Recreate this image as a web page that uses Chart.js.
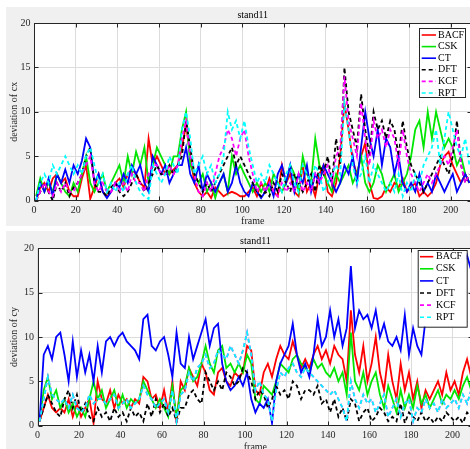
<!DOCTYPE html>
<html><head><meta charset="utf-8">
<script src="https://cdn.jsdelivr.net/npm/chart.js@4.4.1/dist/chart.umd.min.js"></script>
<style>
html,body{margin:0;padding:0;background:#fff;overflow:hidden;width:470px;height:449px;position:relative;}
.panel{position:absolute;left:6px;background:#f0f0f0;}
#p1{top:7px;width:470px;height:219px;}
#p2{top:231px;width:470px;height:224px;}
canvas{display:block;}
</style></head><body>
<div class="panel" id="p1"><canvas id="c1" width="470" height="219" style="width:470px;height:219px"></canvas></div>
<div class="panel" id="p2"><canvas id="c2" width="470" height="224" style="width:470px;height:224px"></canvas></div>
<script>
const frames = [1,3,5,7,9,11,13,15,17,19,21,23,25,27,29,31,33,35,37,39,41,43,45,47,49,51,53,55,57,59,61,63,65,67,69,71,73,75,77,79,81,83,85,87,89,91,93,95,97,99,101,103,105,107,109,111,113,115,117,119,121,123,125,127,129,131,133,135,137,139,141,143,145,147,149,151,153,155,157,159,161,163,165,167,169,171,173,175,177,179,181,183,185,187,189,191,193,195,197,199,201,203,205,207,209];
const seriesNames = ['BACF','CSK','CT','DFT','KCF','RPT'];
const chartTitle = 'stand11';
const xTitle = 'frame';
const yTitleTop = 'deviation of cx';
const yTitleBottom = 'deviation of cy';

// ---- deviation of cx ----
const cxBACF = [0,1.5,2,1,2.5, 3,2,2.5,1,0.5, 0.5,2.5,4,0.2,1.5, 3,1,0.5,1,2, 2.5,1.5,3,3.5,3, 2,1.5,7,4,5, 4,3,3,3.5,4, 6,8.5,5,2,1, 0.5,1,0.3,1.5,1, 0.5,0.8,1,0.8,0.5, 0.5,1,1.5,0.5,2, 1,2.5,1,0.5,4, 2,3,1,0.5,4, 1,2,0.5,3,4, 1,0.5,2,5,11, 8,4.5,3,5,6.5, 2,0.3,0.2,0.5,1.5, 1,2,1.5,2.5,1, 1.5,2,0.5,1,0.5, 1,2,4,5,5.5, 4,3,2,3,2];
const cxCSK = [0.5,2.5,1,2,1, 3,2,1,0.5,2, 1,3,5,2,1, 2,3,1,2,3, 4,2,5,3,5.5, 4,6,2,4,6, 5,4,3,5,5, 8,10,4,3,2, 3,1,2,0.3,2, 3,1,5,3,4, 3,2,1,2,1, 2,1,3,2,1, 2,4,3,1,5, 3,2,7,4,3, 2,1,3,2,3, 4,2,3,5,2, 1,2,4,3,1, 2,3,1,2,3, 5,8,9,6,10, 7,10,8,6,7, 6,4,5,3,2];
const cxCT = [0,2,1,2.5,0.5, 3,2,3.5,2,4, 3,4.5,7,6,2, 3,1,0.3,1,2, 1.5,3,2,4,3, 4,2,1,5,4, 3,4,2,3,4, 4,6,3,2,4, 1,3,2,1,2, 3,1,2,4,2, 1,0.5,2,1,0.3, 1,2,0.5,3,4, 2,4,1,3,2, 4,1,3,2,4, 3,2,1,2,4, 3,5,2,6,10, 7,5,8,4,7, 6,3,5,2,1, 2,1,3,1,2, 1,3,2,1,2, 3,1,2,3,2];
const cxDFT = [0,1,2,1,0, 2,1,2,0.5,1.5, 2,3,5,6,2, 1,1,0.5,1.5,2, 1,0.5,1,2,3, 2,1,2,3,4, 3,3,4,3,4, 5,9,6,3,2, 1,2,1,2,3, 4,5,6,4,5, 4,3,2,1,0.5, 1,0.5,2,1,3, 2,1,3,2,1, 2,3,1,4,3, 5,2,7,4,15, 10,8,6,12,8, 5,10,8,9,7, 9,8,5,9,6, 4,3,2,1,2, 3,4,5,4,3, 5,9,4,2,3];
const cxKCF = [0,1,2,1,0.5, 2,1,2,1,1, 2,3,4,5,2, 1,2,1,1,2, 1,2,1,3,2, 2,1,3,4,4, 3,3,4,3,4, 7,9,5,3,1, 0.5,2,1,3,5, 6,8,7,5,7, 8,5,3,1,2, 1,2,1,0.5,2, 1,2,1,3,1, 2,1,3,2,3, 4,2,5,6,14, 9,7,5,11,7, 4,9,7,8,6, 8,7,4,8,5, 3,2,1,2,3, 2,3,4,5,4, 6,8,4,2,3];
const cxRPT = [0,2,3,2,4, 3,4,5,4,3, 4,3,5,6,4, 2,3,1,2,1, 2,1,3,4,2, 1,0.5,0.2,4,3, 2,3,5,4,3, 8,10,7,3,4, 5,3,4,2,3, 5,10,8,9,7, 9,6,4,2,3, 2,4,3,2,1, 3,4,2,1,4, 3,2,4,3,1, 2,3,4,3,11, 8,4,2,3,5, 2,4,3,2,1, 2,1,3,0.5,2, 1,3,2,4,5, 6,8,4,7,10, 8,6,5,7,4];

// ---- deviation of cy ----
const cyBACF = [0.5,2,3.5,2,1.5, 2,1.5,3,1,2.5, 1,2,3,0.3,5, 3,2.5,4,2,3.5, 2.5,3,2,3,2.5, 5.5,5,3,3.5,2, 4,1.5,5,0.3,5, 4,6.5,5.5,4.5,7, 6,4,3.5,6,6.5, 5,4.5,6,5.5,6, 9,8.5,4,3.5,6, 7,5.5,7.5,9,8, 7.5,9.5,8,6.5,7.5, 6.5,8,9,7.5,8.5, 7,9,8,7.5,5, 13,8,6,9,5, 7,10,6,4,8, 5,3,7,4,6, 3,5,2,4,3, 4,5,3.5,6,4, 5,3.5,6,7.5,5.5];
const cyCSK = [0.5,4,5.5,3,4, 2,3,1.5,2.5,1, 2,1,3,5,3, 4,2,3,4,2, 3.5,2,3,2.5,3, 5,4,3,2,3, 2,1,4.5,1,4, 4.5,6.5,5,5.5,7, 9,7,6,8.5,9, 6.5,7,6,7,6, 8,7,3,2.5,4.5, 4,3.5,5,7,6.5, 6,7.5,8,7,6.5, 6,7.5,6.5,7,6, 5.5,6.5,5,6,3.5, 10.5,5,4,6,3.5, 5,6,3.5,2,4.5, 3,1.5,4,2,3.5, 2,4.5,2.5,3.5,2, 3,4,2.5,3.5,3, 4,3,4.5,5.5,4];
const cyCT = [0.5,8,9,7.5,10, 10.5,8,5,9.5,5.5, 8.5,6,8,5,9, 6,9.5,10,9,10, 10.5,9.5,9,8.5,7.5, 12,12.5,9,8.5,9.5, 10,8,5.5,10.5,7, 6.5,10,7.5,9,10.5, 12,9,11,11.5,7, 5,4,4.5,5.5,4.5, 6,3,1.5,2.5,2, 3,0.3,5,7,8, 9,11.5,8,6,7, 5.5,8,12,9,10, 13,10,12,9,11, 18,11,13,12,12.5, 11,13,10,11.5,9.5, 9,10,8.5,12.5,8, 11,9,8,12,14, 15,13,16,14,15, 16,14,18,19.2,17.5];
const cyDFT = [0.5,2,3.5,2.5,1.5, 1,3,4,2,3.5, 1.5,2.5,1,0.5,2, 1,1.5,0.5,2,1, 1.5,0.5,2,1,1.5, 0.5,2.5,1,3,1.5, 2.5,1,2,0.5,2, 2,3.5,4,3,2.5, 6,5,4,5,4, 6,5.5,4.5,5,6.5, 6,5,3,4,3.5, 2,3,4.5,3.5,4, 3,5,4.5,3,4, 4,3.5,4.5,2.5,3, 1.5,3,1,2,0.5, 3,2.5,0.5,1.5,2, 0.5,1,2,1.5,0.5, 1,0.5,2.5,0.3,1.5, 1,0.5,1.5,0.5,1, 0.3,1,0.5,1.5,1, 0.5,1,0.3,1.5,1];
const cyKCF = [0.5,3,5.5,3.5,3, 2.5,3,2,3.5,2, 1.5,2,3.5,2.5,3, 3,2.5,3,3.5,2, 2.5,3,2,2.5,3, 4.5,3.5,3,2,2.5, 3,1.5,4,0.5,3.5, 4,6,5,6.5,7, 8,6.5,7,8.5,8, 7.5,9,8,7,8.5, 10.5,8,4,5,3.5, 3,0.5,4,6,5.5, 6.5,7,6,5.5,6.5, 6,5.5,5,4.5,4, 3.5,4,3,2,0.5, 5,3,2,3.5,2.5, 3,1.5,2.5,3.5,1, 2,3,1,2.5,3, 0.5,2,1.5,3,2, 2.5,1.5,3,2,2.5, 3,2,3.5,2.5,4];
const cyRPT = [0.5,3,5.5,3.5,3, 2.5,3,2,3.5,2, 1.5,2,3.5,2.5,3, 3,2.5,3,3.5,2, 2.5,3,2,2.5,3, 4.5,3.5,3,2,2.5, 3,1.5,4,0.5,3.5, 4,6,5,6.5,7, 8,6.5,7,8.5,8, 7.5,9,8,7,8.5, 10.5,8,4,5,3.5, 3,0.5,4,6,5.5, 6.5,7,6,5.5,6.5, 6,5.5,5,4.5,4, 3.5,4,3,2,0.5, 5,3,2,3.5,2.5, 3,1.5,2.5,3.5,1, 2,3,1,2.5,3, 0.5,2,1.5,3,2, 2.5,1.5,3,2,2.5, 3,2,3.5,2.5,4];

const colors = ['#ff0000','#00e600','#0000ff','#000000','#ff00ff','#00ffff'];
const dashes = [[],[],[],[4,3],[4,3],[4,3]];

const SERIF = '"Liberation Serif", "Times New Roman", serif';
const TICK = '#262626';
const GRID = '#dcdcdc';

const frameBox = {
  id: 'frameBox',
  beforeDraw(chart) {
    const {ctx, chartArea: a} = chart;
    ctx.save();
    ctx.fillStyle = '#ffffff';
    ctx.fillRect(a.left, a.top, a.right - a.left, a.bottom - a.top);
    ctx.restore();
  },
  afterDatasetsDraw(chart) {
    const {ctx, chartArea: a, scales} = chart;
    ctx.save();
    ctx.strokeStyle = TICK;
    ctx.lineWidth = 1;
    const L = Math.round(a.left) + 0.5, R = Math.round(a.right) - 0.5;
    const T = Math.round(a.top) + 0.5, B = Math.round(a.bottom) - 0.5;
    ctx.strokeRect(L, T, R - L, B - T);
    ctx.beginPath();
    scales.x.ticks.forEach(t => {
      const px = Math.round(scales.x.getPixelForValue(t.value)) + 0.5;
      ctx.moveTo(px, B); ctx.lineTo(px, B - 4);
      ctx.moveTo(px, T); ctx.lineTo(px, T + 4);
    });
    scales.y.ticks.forEach(t => {
      const py = Math.round(scales.y.getPixelForValue(t.value)) + 0.5;
      ctx.moveTo(L, py); ctx.lineTo(L + 4, py);
      ctx.moveTo(R, py); ctx.lineTo(R - 4, py);
    });
    ctx.stroke();
    ctx.restore();
  }
};

const boxLegend = {
  id: 'boxLegend',
  afterDraw(chart, args, o) {
    const ctx = chart.ctx;
    ctx.save();
    ctx.fillStyle = '#ffffff';
    ctx.fillRect(o.x, o.y, o.w, o.h);
    ctx.strokeStyle = TICK; ctx.lineWidth = 1;
    ctx.strokeRect(o.x + 0.5, o.y + 0.5, o.w, o.h);
    ctx.font = '10px ' + SERIF;
    ctx.textBaseline = 'middle';
    ctx.textAlign = 'left';
    chart.data.datasets.forEach((ds, i) => {
      const yy = o.y + o.first + i * o.row;
      ctx.strokeStyle = ds.borderColor; ctx.lineWidth = 1.6;
      ctx.setLineDash(ds.borderDash || []);
      ctx.beginPath(); ctx.moveTo(o.lx0, yy); ctx.lineTo(o.lx1, yy); ctx.stroke();
      ctx.setLineDash([]);
      ctx.fillStyle = '#000';
      ctx.fillText(ds.label, o.tx, yy);
    });
    ctx.restore();
  }
};

function build(id, values, g) {
  const datasets = values.map((v, i) => ({
    label: seriesNames[i], data: v, borderColor: colors[i], borderWidth: 1.8,
    borderDash: dashes[i], pointRadius: 0, fill: false, tension: 0, order: 6 - i
  }));
  return new Chart(document.getElementById(id), {
    type: 'line',
    data: {labels: frames, datasets},
    plugins: [frameBox, boxLegend],
    options: {
      responsive: false, animation: false, devicePixelRatio: 1,
      layout: {padding: {left: 0, right: g.padRight, top: 0, bottom: 0}},
      plugins: {
        legend: {display: false}, tooltip: {enabled: false},
        title: {display: true, text: chartTitle, fullSize: false, color: '#000',
          font: {family: SERIF, size: 10, weight: 'normal', lineHeight: 1.2},
          padding: {top: g.tTop, bottom: g.tBottom}},
        boxLegend: g.legend
      },
      scales: {
        x: {type: 'linear', min: 0, max: 210,
          afterFit: s => { s.height = g.xH; },
          ticks: {stepSize: 20, includeBounds: false, padding: g.xTickPad, color: TICK,
            font: {family: SERIF, size: 10}, maxRotation: 0, autoSkip: false},
          grid: {color: GRID, drawTicks: false}, border: {display: false},
          title: {display: true, text: xTitle, color: TICK,
            font: {family: SERIF, size: 10, lineHeight: 1}, padding: {top: 0, bottom: g.xTitlePad}}},
        y: {min: 0, max: 20,
          afterFit: s => { s.width = g.yW; },
          ticks: {stepSize: 5, padding: 3.5, color: TICK, font: {family: SERIF, size: 10}},
          grid: {color: GRID, drawTicks: false}, border: {display: false},
          title: {display: true, text: g.yTitle, color: TICK,
            font: {family: SERIF, size: 10, lineHeight: 1}, padding: {top: 3, bottom: 0}}}
      }
    }
  });
}

build('c1', [cxBACF, cxCSK, cxCT, cxDFT, cxKCF, cxRPT], {
  padRight: 4.5, tTop: 2.8, tBottom: 1.2, xH: 25.3, xTickPad: 3.3, xTitlePad: 0, yW: 28,
  yTitle: yTitleTop,
  legend: {x: 413, y: 21, w: 46, h: 69, first: 7, row: 11.6, lx0: 415.7, lx1: 430, tx: 432}
});
build('c2', [cyBACF, cyCSK, cyCT, cyDFT, cyKCF, cyRPT], {
  padRight: 2.7, tTop: 4.7, tBottom: 0.6, xH: 29.3, xTickPad: 3.3, xTitlePad: 3, yW: 31.5,
  yTitle: yTitleBottom,
  legend: {x: 411.7, y: 19, w: 49, h: 76.7, first: 6.7, row: 12.1, lx0: 414, lx1: 427.3, tx: 430}
});
</script>
</body></html>
